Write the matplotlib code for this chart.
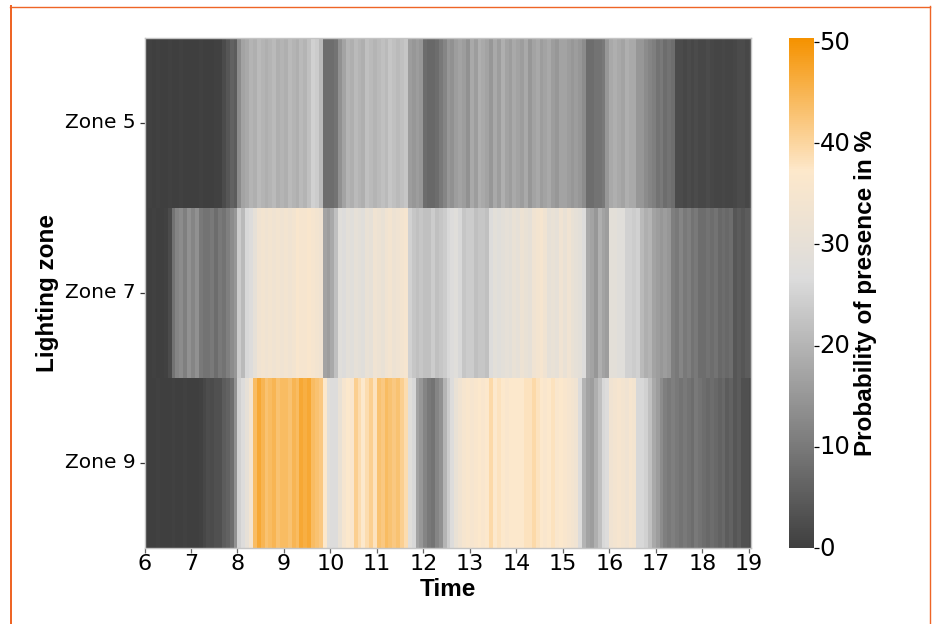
import numpy as np
import matplotlib
matplotlib.use("Agg")
import matplotlib.pyplot as plt
from matplotlib.colors import LinearSegmentedColormap
from matplotlib.font_manager import FontProperties, findSystemFonts
from matplotlib.lines import Line2D
from matplotlib.transforms import ScaledTranslation

zones = ["Zone 5", "Zone 7", "Zone 9"]
hour_ticks = list(range(6, 20))
cbar_ticks = [0, 10, 20, 30, 40, 50]

zone5 = [0,.4,0,.4,0,0,.4,0,0,.4,0,0,
         0,0,.4,0,0,0,.5,.5,2,4,6,5,
         13,17,18,20,19,21,20,19,20,21,19,20,
         19,21,20,19,21,20,22,25,24,21,8,8,
         8,9,14,17,20,19,21,20,19,22,21,20,
         21,22,21,23,22,21,22,23,16,15,16,15,
         8,7,7,8,10,12,15,14,16,17,16,14,
         18,16,19,18,17,15,18,16,19,17,16,18,
         17,16,18,15,17,18,16,17,18,16,15,17,
         17,16,15,16,15,13,8,8,9,9,10,15,
         18,19,18,17,19,18,18,15,15,13,12,11,
         9,10,8,9,8,2,2,1.5,2,1.5,2,1.5,
         1.5,2,1.5,1,1,1.5,1,1,1.5,2,2,1.5,
         2]
zone7 = [0,0,.5,0,0,.5,2,9,12,13,11,14,
         12,14,10,9,9,10,8,10,9,11,13,15,
         24,21,26,27,30,33,34,33,34,33,34,33,
         34,33,34,36,35,35,36,35,34,33,17,16,
         18,22,28,27,29,28,30,29,28,31,30,33,
         32,31,33,34,32,33,34,35,25,23,22,23,
         22,22,24,22,23,24,26,27,28,26,23,24,
         24,22,23,23,22,27,29,28,29,30,29,31,
         30,32,31,30,33,34,35,33,30,31,30,33,
         31,33,31,30,29,27,18,17,15,19,17,16,
         29,29,28,28,25,25,24,25,21,19,20,17,
         16,15,16,15,11,10,12,10,11,9,10,8,
         8,9,8,9,7,8,7,8,4,5,4,5,
         5]
zone9 = [0,0,0,.4,0,0,0,.4,0,0,.4,0,
         0,0,.5,1.5,2.5,2,3,3,5,6,8,14,
         25,27,30,34,44,47,45,43,44,45,43,44,
         44,43,45,44,47,46,47,44,43,42,37,28,
         27,27,31,35,37,36,41,39,37,39,41,38,
         43,42,44,43,42,43,41,39,28,26,17,15,
         12,10,9,12,14,20,24,27,31,33,35,36,
         35,36,37,36,37,39.5,37,38,37,36,37,37,
         37,37,38,38,39.5,38,37,36,37,38,36,37,
         36,35,34,33,27,20,17,16,19,22,26,27,
         33,34,35,34,33,35,34,26,26,25,22,18,
         16,13,11,10,11,10,9,10,9,8,10,9,
         8,7,8,7,6,7,5,6,4,5,3,3,
         2]

plt.rcParams["font.family"] = "DejaVu Sans"
W, H = 936, 624
fig = plt.figure(figsize=(W / 100, H / 100), dpi=100, facecolor="white")

cmap = LinearSegmentedColormap.from_list(
    "presence",
    [(0.0, "#3f3f3f"), (0.53, "#dcdcdc"), (0.74, "#fde8cb"), (1.0, "#f59200")],
)

ax = fig.add_axes([144.5 / W, 1 - 548 / H, (751 - 144.5) / W, 510 / H])
values = np.array([zone5, zone7, zone9], dtype=float)
bin_hours = 5 / 60
x_edges = 6 + np.arange(values.shape[1] + 1) * bin_hours
y_edges = np.arange(len(zones) + 1)
mesh = ax.pcolormesh(x_edges, y_edges, values, cmap=cmap, vmin=0, vmax=50.4,
                     shading="flat", rasterized=True, linewidth=0)
ax.set_xlim(6, 19.05)
ax.set_ylim(len(zones), 0)
ax.set_xticks(hour_ticks)
ax.set_yticks(np.arange(len(zones)) + 0.5)
ax.set_yticklabels(zones)
ax.tick_params(axis="x", labelsize=16, length=3.5, width=0.9, color="#666666", pad=1)
ax.tick_params(axis="y", labelsize=14.5, length=3.5, width=0.9, color="#333333", pad=3)
for s in ax.spines.values():
    s.set_color("#c4c4c4")
    s.set_linewidth(1)

up = ScaledTranslation(0, 2 / 100, fig.dpi_scale_trans)
for label in ax.get_yticklabels():
    label.set_transform(label.get_transform() + up)

regular_bold = [f for f in findSystemFonts() if f.endswith("LiberationSans-Bold.ttf")]
if regular_bold:
    bold = FontProperties(fname=regular_bold[0], size=17.5)
else:
    bold = FontProperties(family="Liberation Sans", weight="bold", size=17.5)
fig.text(448 / W, 1 - 589 / H, "Time", fontproperties=bold, ha="center", va="center")
fig.text(47.5 / W, 1 - 293 / H, "Lighting zone", fontproperties=bold,
         rotation=90, ha="center", va="center")

cax = fig.add_axes([789 / W, 1 - 548 / H, 25 / W, 510 / H])
cbar = fig.colorbar(mesh, cax=cax, ticks=cbar_ticks)
cbar.outline.set_visible(False)
cbar.ax.tick_params(labelsize=17.5, length=3.5, width=0.9, pad=0.5)
for label in cbar.ax.get_yticklabels():
    label.set_transform(label.get_transform() + up)
fig.text(865.5 / W, 1 - 293 / H, "Probability of presence in %", fontproperties=bold,
         rotation=90, ha="center", va="center")

edge = "#ee6526"
fig.add_artist(Line2D([11 / W, 11 / W], [0, 1 - 6 / H], transform=fig.transFigure,
                      color=edge, linewidth=1.44))
fig.add_artist(Line2D([10 / W, 930 / W], [1 - 6.5 / H, 1 - 6.5 / H], transform=fig.transFigure,
                      color=edge, linewidth=1.0))
fig.add_artist(Line2D([929.5 / W, 929.5 / W], [0, 1 - 6 / H], transform=fig.transFigure,
                      color=edge, linewidth=1.0))

fig.savefig("out.png", dpi=100)
